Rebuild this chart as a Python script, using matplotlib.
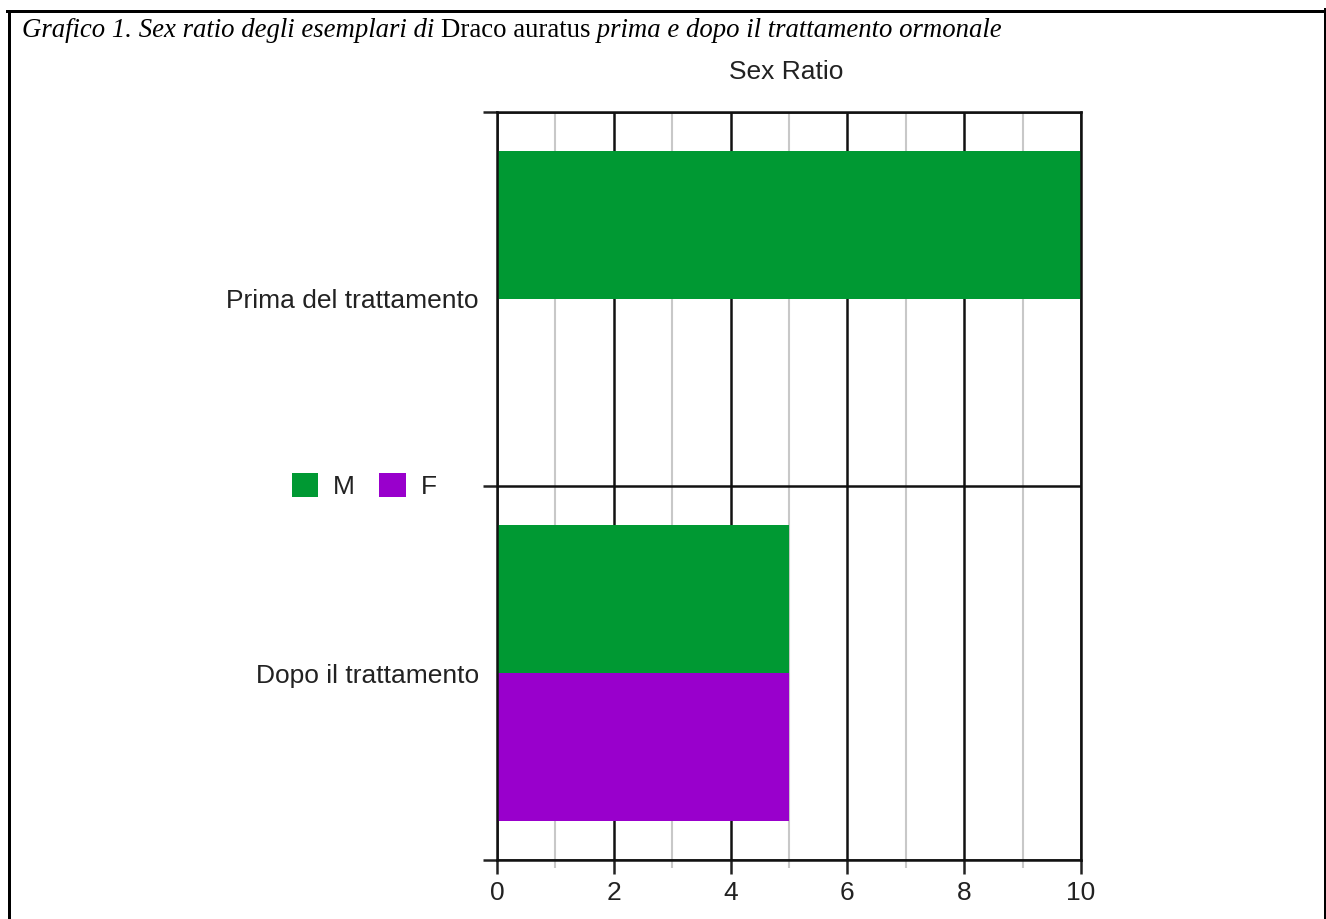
import matplotlib
matplotlib.use("Agg")
import matplotlib.pyplot as plt
from matplotlib.lines import Line2D
from matplotlib.patches import Patch
import numpy as np

categories = ["Prima del trattamento", "Dopo il trattamento"]
series_names = ["M", "F"]
values_M = [10, 5]
values_F = [0, 5]
x_ticks = [0, 2, 4, 6, 8, 10]
colors = {"M": "#009933", "F": "#9900cc"}

W, H = 1326, 919
fig = plt.figure(figsize=(W / 100, H / 100), dpi=100)
plt.rcParams['font.family'] = ['Liberation Sans', 'DejaVu Sans']

def fx(px):
    return px / W

def fy(py):
    return 1 - py / H

ax = fig.add_axes([fx(497), fy(860), fx(1081) - fx(497), fy(112) - fy(860)])

pos = np.arange(len(categories)) + 0.5
bh = 0.395
ax.barh(pos - bh / 2, values_M, height=bh, color=colors["M"], label="M", zorder=3)
ax.barh(pos + bh / 2, values_F, height=bh, color=colors["F"], label="F", zorder=3)

ax.set_xlim(0, 10)
ax.set_ylim(2, 0)

ax.set_xticks(x_ticks)
ax.set_xticks([1, 3, 5, 7, 9], minor=True)
ax.set_yticks([0, 1, 2])
ax.set_yticklabels([])
ax.set_yticks(pos, minor=True)
ax.set_yticklabels(categories, minor=True)

ax.tick_params(axis='x', which='major', length=10, width=1.8, color='#222222',
               labelsize=19, pad=5, labelcolor='#222222')
ax.tick_params(axis='x', which='minor', length=6, width=1.5, color='#c8c8c8')
ax.tick_params(axis='y', which='major', length=10, width=1.8, color='#222222')
ax.tick_params(axis='y', which='minor', length=0, labelsize=19, pad=13, labelcolor='#222222')

ax.grid(axis='x', which='major', color='#111111', linewidth=1.8, zorder=1)
ax.grid(axis='x', which='minor', color='#c8c8c8', linewidth=1.5, zorder=1)
ax.grid(axis='y', which='major', color='#111111', linewidth=1.8, zorder=1)
ax.set_axisbelow(False)
for s in ax.spines.values():
    s.set_color('#111111')
    s.set_linewidth(1.8)
    s.set_zorder(4)

fig.text(fx(786), fy(72), "Sex Ratio", ha='center', va='center', fontsize=19, color='#222222')

handles = [Patch(facecolor=colors[n], edgecolor='none') for n in series_names]
fig.legend(handles, series_names, loc='center', bbox_to_anchor=(fx(364), fy(486)),
           ncol=2, frameon=False, fontsize=19, handlelength=1.0, handleheight=1.0,
           handletextpad=0.55, columnspacing=0.95, labelcolor='#222222')

# Title with mixed styles
parts = [("Grafico 1. Sex ratio degli esemplari di ", 'italic'),
         ("Draco auratus", 'normal'),
         (" prima e dopo il trattamento ormonale", 'italic')]
fig.canvas.draw()
renderer = fig.canvas.get_renderer()
x0 = 22
for txt, style in parts:
    t = fig.text(fx(x0), fy(37), txt, ha='left', va='baseline', fontsize=19.25,
                 family='Liberation Serif', style=style, color='black')
    bb = t.get_window_extent(renderer=renderer)
    x0 += bb.width

# frame
lw = 3 * 72 / 100
fig.add_artist(Line2D([fx(8.5), fx(8.5)], [fy(10.5), 0], transform=fig.transFigure, color='black', lw=lw))
fig.add_artist(Line2D([fx(7), fx(1326)], [fy(10.5), fy(10.5)], transform=fig.transFigure, color='black', lw=lw))
fig.add_artist(Line2D([fx(1324.5), fx(1324.5)], [fy(9), 0], transform=fig.transFigure, color='black', lw=lw))

fig.savefig("out.png", dpi=100)
